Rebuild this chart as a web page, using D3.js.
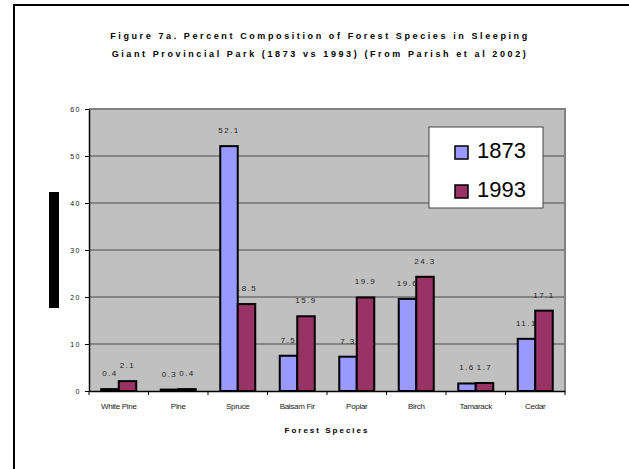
<!DOCTYPE html>
<html>
<head>
<meta charset="utf-8">
<script src="https://cdn.jsdelivr.net/npm/d3@7"></script>
<style>
  body { margin: 0; background: #fff; }
  svg text { font-family: "Liberation Sans", Arial, sans-serif; }
</style>
</head>
<body>
<svg id="chart" width="629" height="469"></svg>
<script>
var species = ["White Pine", "Pine", "Spruce", "Balsam Fir", "Poplar", "Birch", "Tamarack", "Cedar"];
var years = ["1873", "1993"];
var values1873 = [0.4, 0.3, 52.1, 7.5, 7.3, 19.6, 1.6, 11.1];
var values1993 = [2.1, 0.4, 18.5, 15.9, 19.9, 24.3, 1.7, 17.1];
var yTicks = [0, 10, 20, 30, 40, 50, 60];
var colors = ["#9999ff", "#993366"];

var svg = d3.select("#chart"),
    margin = {top: 109, right: 64, bottom: 78, left: 89},
    width = 629 - margin.left - margin.right,
    height = 469 - margin.top - margin.bottom;

// outer frame (right and bottom edges fall outside the picture)
svg.append("rect")
    .attr("x", 14).attr("y", 5)
    .attr("width", 700).attr("height", 600)
    .attr("fill", "none").attr("stroke", "#000").attr("stroke-width", 2);

// title
var title = svg.append("text")
    .attr("text-anchor", "middle")
    .style("font-size", "9px").style("font-weight", "bold")
    .style("letter-spacing", "2.6px");
title.append("tspan").attr("x", 320).attr("y", 39)
    .text("Figure 7a. Percent Composition of Forest Species in Sleeping");
title.append("tspan").attr("x", 320).attr("y", 57)
    .text("Giant Provincial Park (1873 vs 1993) (From Parish et al 2002)");

var g = svg.append("g")
    .attr("transform", "translate(" + margin.left + "," + margin.top + ")");

var x0 = d3.scaleBand().domain(species).range([0, width]);
var x1 = d3.scaleBand().domain(years).range([0, 35]);
var y = d3.scaleLinear().domain([0, 60]).range([height, 0]);

g.append("rect")
    .attr("width", width).attr("height", height)
    .attr("fill", "#c0c0c0");

// gridlines
g.append("g").selectAll("line")
    .data(yTicks.filter(d => d > 0 && d < 60))
    .enter().append("line")
    .attr("x1", 0).attr("x2", width)
    .attr("y1", d => y(d)).attr("y2", d => y(d))
    .attr("stroke", "#4a4a4a").attr("stroke-width", 1);

// top & right plot border
g.append("path")
    .attr("d", "M0," + y(60) + "H" + width + "V" + height)
    .attr("fill", "none").attr("stroke", "#808080").attr("stroke-width", 2);

var rows = species.map((s, i) => ({species: s, vals: [values1873[i], values1993[i]]}));

var groups = g.append("g").selectAll("g")
    .data(rows)
    .enter().append("g")
    .attr("transform", d => "translate(" + (x0(d.species) + (x0.bandwidth() - 35) / 2) + ",0)");

groups.selectAll("rect")
    .data(d => d.vals.map((v, j) => ({year: years[j], value: v, j: j})))
    .enter().append("rect")
    .attr("x", d => x1(d.year))
    .attr("y", d => y(d.value))
    .attr("width", x1.bandwidth())
    .attr("height", d => height - y(d.value))
    .attr("fill", d => colors[d.j])
    .attr("stroke", "#000").attr("stroke-width", 2);

groups.selectAll("text")
    .data(d => d.vals.map((v, j) => ({year: years[j], value: v})))
    .enter().append("text")
    .attr("x", d => x1(d.year) + x1.bandwidth() / 2)
    .attr("y", d => y(d.value) - 13)
    .attr("text-anchor", "middle")
    .style("font-size", "8px").style("letter-spacing", "1.5px")
    .attr("fill", "#222")
    .text(d => d.value.toFixed(1));

// axes
g.append("g")
    .attr("transform", "translate(0," + height + ")")
    .call(d3.axisBottom(x0).tickSize(0).tickPadding(12))
    .call(a => a.select(".domain").attr("stroke", "#000").attr("stroke-width", 1.5))
    .call(a => a.selectAll("text").style("font-size", "8px").style("letter-spacing", "-0.3px")
        .attr("fill", "#222").style("font-family", "'Liberation Sans', Arial, sans-serif"));

g.append("g").selectAll("line")
    .data(d3.range(species.length + 1))
    .enter().append("line")
    .attr("x1", i => i * x0.step()).attr("x2", i => i * x0.step())
    .attr("y1", height).attr("y2", height + 4)
    .attr("stroke", "#000");

g.append("g")
    .call(d3.axisLeft(y).tickValues(yTicks).tickSize(4).tickPadding(4).tickSizeOuter(0))
    .call(a => a.select(".domain").attr("stroke", "#000").attr("stroke-width", 1.5))
    .call(a => a.selectAll("text").style("font-size", "7px").style("letter-spacing", "1.5px")
        .attr("fill", "#222").style("font-family", "'Liberation Sans', Arial, sans-serif"));

// x title
g.append("text")
    .attr("text-anchor", "middle")
    .attr("x", width / 2).attr("y", height + 42)
    .style("font-size", "8px").style("font-weight", "bold").style("letter-spacing", "2px")
    .text("Forest Species");

// y title block (renders as a solid black box)
svg.append("rect")
    .attr("x", 49).attr("y", 192).attr("width", 10).attr("height", 116)
    .attr("fill", "#000");

// legend
var legend = svg.append("g").attr("transform", "translate(429,127)");
legend.append("rect")
    .attr("width", 114).attr("height", 81)
    .attr("fill", "#fff").attr("stroke", "#444").attr("stroke-width", 1);

var item = legend.selectAll(".item")
    .data(years)
    .enter().append("g")
    .attr("transform", (d, i) => "translate(26," + (19 + i * 39) + ")");
item.append("rect")
    .attr("width", 13).attr("height", 13)
    .attr("fill", (d, i) => colors[i])
    .attr("stroke", "#000").attr("stroke-width", 1.5);
item.append("text")
    .attr("x", 22).attr("y", 12)
    .style("font-size", "22px")
    .attr("fill", "#000")
    .text(d => d);
</script>
</body>
</html>
